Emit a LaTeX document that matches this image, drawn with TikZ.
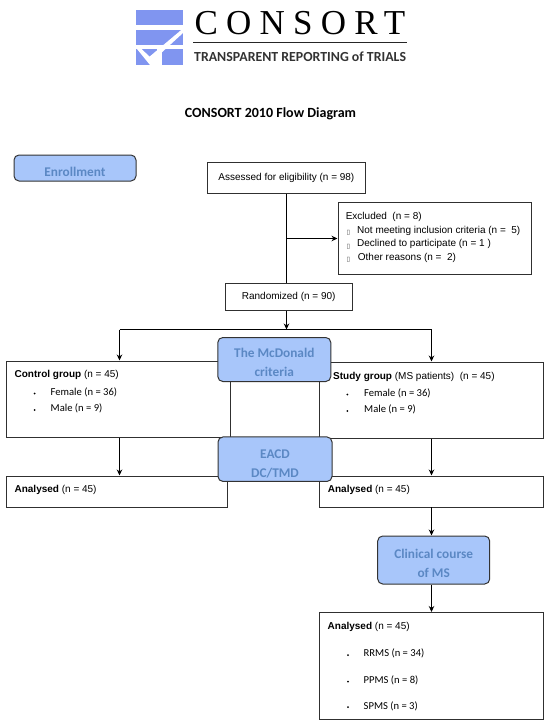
\documentclass[tikz,border=0pt]{standalone}
\usepackage{fontspec}
\setmainfont{Liberation Sans}
\newfontfamily\carl{Carlito}
\newfontfamily\logoserif{Liberation Serif}
\newfontfamily\djv{DejaVu Sans}
\usetikzlibrary{arrows.meta}
\definecolor{logoblue}{HTML}{8095F0}
\definecolor{phasefill}{HTML}{A8C6FA}
\definecolor{phasetext}{HTML}{5B88C4}
\definecolor{boxline}{HTML}{303030}
\newcommand{\topgap}[1]{\rule{0pt}{#1pt}}
\tikzset{
  flowbox/.style={draw=boxline,line width=1pt,fill=white,inner sep=0pt,font=\fontsize{10}{12}\selectfont},
  phase/.style={draw=black!80,line width=1pt,fill=phasefill,rounded corners=5pt,inner sep=0pt,align=center,
     text=phasetext,font=\carl\bfseries\fontsize{13.3}{19}\selectfont},
  sans/.style={anchor=west,inner sep=0pt,font=\fontsize{10}{12}\selectfont},
  cal/.style={anchor=west,inner sep=0pt,font=\carl\fontsize{10.6}{12}\selectfont},
  dot/.style={circle,fill=black,inner sep=0pt,minimum size=2pt},
  hollow/.style={inner sep=0pt,font=\djv\fontsize{6.5}{7}\selectfont,text=black!70},
  link/.style={line width=1pt,black},
  flow/.style={link,-{Stealth[length=6pt,width=5.5pt]}}
}
\begin{document}
\begin{tikzpicture}[x=1pt,y=-1pt]
\useasboundingbox (0,0) rectangle (550,725);
% logo
\fill[logoblue] (135.7,10) rectangle (182.7,25.3);
\fill[logoblue] (135.7,29.7) rectangle (182.7,45);
\fill[logoblue] (135.7,49) rectangle (156.7,64.7);
\fill[logoblue] (162,49) rectangle (182.7,64.7);
\fill[white] (183,28.5) -- (183,33) -- (156.8,57) -- (156.8,65) -- (150,65) -- (137,49) -- (141.7,49) -- (149.5,56.7) -- cycle;
\node[anchor=base west,inner sep=0pt] (wordmark) at (194.5,35) {\logoserif\fontsize{35}{35}\selectfont\addfontfeature{LetterSpace=23.5}CONSORT};
\draw[line width=1pt,black!85] (193,43) -- (407,43);
\node[anchor=base west,inner sep=0pt] (tagline) at (194,61) {\carl\bfseries\fontsize{13.85}{14}\selectfont\color{black!80}TRANSPARENT REPORTING of TRIALS};
\node[inner sep=0pt] (title) at (270.5,113.5) {\carl\bfseries\fontsize{14}{15}\selectfont CONSORT 2010 Flow Diagram};

% boxes
\node[flowbox,minimum width=158,minimum height=31] (assessed) at (286.4,177.5) {Assessed for eligibility (n = 98)};
\node[flowbox,minimum width=193,minimum height=72] (excluded) at (434.5,238.2) {};
\node[flowbox,minimum width=127,minimum height=27] (randomized) at (288.7,296.5) {Randomized (n = 90)};
\node[flowbox,minimum width=224,minimum height=76] (control) at (118.6,399) {};
\node[flowbox,minimum width=224,minimum height=76] (study) at (431.6,400) {};
\node[flowbox,minimum width=221,minimum height=31] (analysedL) at (117.2,491.5) {};
\node[flowbox,minimum width=224,minimum height=31] (analysedR) at (431.6,491.5) {};
\node[flowbox,minimum width=224,minimum height=107] (final) at (431.8,666) {};

% phase boxes
\node[phase,minimum width=122,minimum height=26] (enrollment) at (75,168) {\topgap{18}Enrollment};
\node[phase,minimum width=113,minimum height=44] (mcdonald) at (274.3,359.5) {\topgap{15}The McDonald\\criteria};
\node[phase,minimum width=114,minimum height=44.5] (eacd) at (275,459.2) {\topgap{19}EACD\\DC/TMD};
\node[phase,minimum width=112,minimum height=48] (clinical) at (433.7,560) {\topgap{17}Clinical course\\of MS};

% connectors
\coordinate (split) at (286.5,329.5);
\coordinate (exitA) at (286.5,238.5);
\coordinate (branchL) at (119.5,329.5);
\coordinate (branchR) at (431.5,329.5);
\coordinate (clinicalIn) at (431.5,507);
\draw[link] (exitA |- assessed.south) -- (exitA |- randomized.north);
\draw[flow] (exitA) -- (exitA -| excluded.west);
\draw[flow] (split |- randomized.south) -- (split);
\draw[link] (branchL) -- (branchR);
\draw[flow] (branchL) -- (branchL |- control.north);
\draw[flow] (branchR) -- (branchR |- study.north);
\draw[flow] (branchL |- control.south) -- (branchL |- analysedL.north);
\draw[flow] (branchR |- study.south) -- (branchR |- analysedR.north);
\draw[flow] (clinicalIn) -- (clinicalIn |- clinical.north);
\draw[flow] (clinicalIn |- clinical.south) -- (clinicalIn |- final.north);

% text
\node[sans] (t1) at (345.6,217) {Excluded\ \ (n = 8)};
\node[sans] (t2) at (357,230.5) {Not meeting inclusion criteria (n =\ \ 5)};
\node[sans] (t3) at (357,244) {Declined to participate (n = 1 )};
\node[sans] (t4) at (357.7,257.5) {Other reasons (n =\ \ 2)};
\node[hollow] (h1) at (348.4,233) {▯};
\node[hollow] (h2) at (348.4,247) {▯};
\node[hollow] (h3) at (348.4,260) {▯};

\node[sans] (c1) at (14.4,375) {\textbf{Control group} (n = 45)};
\node[dot] (cd1) at (34.7,393.5) {};
\node[dot] (cd2) at (34.7,410) {};
\node[cal] (c2) at (50.5,392) {Female (n = 36)};
\node[cal] (c3) at (50.5,408) {Male (n = 9)};

\node[sans] (s1) at (333,376.5) {\textbf{Study group} (MS patients)\ \ (n = 45)};
\node[dot] (sd1) at (347.4,394.5) {};
\node[dot] (sd2) at (347.4,411) {};
\node[cal] (s2) at (364,393) {Female (n = 36)};
\node[cal] (s3) at (364,409) {Male (n = 9)};

\node[sans] (a1) at (14.4,490) {\textbf{Analysed} (n = 45)};
\node[sans] (a2) at (327.7,490) {\textbf{Analysed} (n = 45)};

\node[sans] (f1) at (327.5,627) {\textbf{Analysed} (n = 45)};
\node[dot] (fd1) at (348,655) {};
\node[dot] (fd2) at (348,681.5) {};
\node[dot] (fd3) at (348,707) {};
\node[cal] (f2) at (363.5,653.5) {RRMS (n = 34)};
\node[cal] (f3) at (363.5,680) {PPMS (n = 8)};
\node[cal] (f4) at (363.5,706) {SPMS (n = 3)};
\end{tikzpicture}
\end{document}
